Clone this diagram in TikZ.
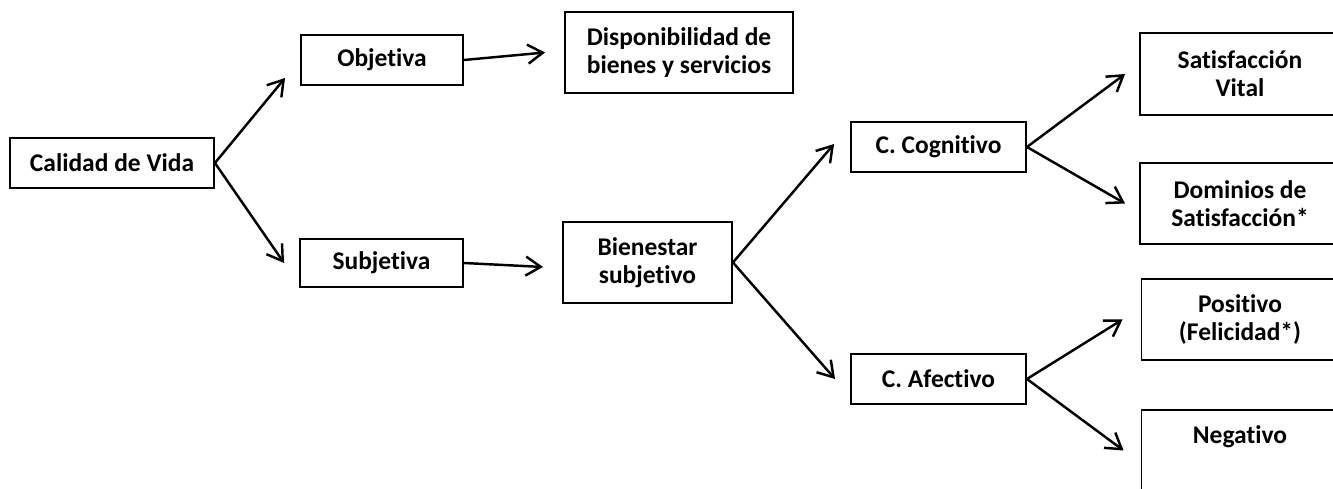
\documentclass[tikz,border=0pt]{standalone}
\usepackage{fontspec}
\setmainfont{Carlito}[Ligatures=NoCommon]
\usepackage{tikz}
\usetikzlibrary{arrows.meta}

\begin{document}
\begin{tikzpicture}[x=0.02cm,y=-0.02cm,
  caja/.style={draw, line width=1.1pt, align=center, inner sep=0pt, font=\fontsize{14.5}{16}\selectfont\bfseries},
  flecha/.style={line width=1.4pt, -{Straight Barb[length=3mm,width=3.8mm]}}]
\clip (0,0) rectangle (1333,489);
\node[caja, minimum width=4.08cm, minimum height=1cm] (cal) at (112,163) {Calidad de Vida};
\node[caja, minimum width=3.24cm, minimum height=1cm] (obj) at (382,60) {Objetiva};
\node[caja, minimum width=3.26cm, minimum height=0.96cm] (sub) at (381.5,263) {Subjetiva};
\node[caja, minimum width=4.56cm, minimum height=1.62cm] (disp) at (679,52.5) {Disponibilidad de\\bienes y servicios};
\node[caja, minimum width=3.38cm, minimum height=1.62cm] (bien) at (647.5,262.5) {Bienestar\\subjetivo};
\node[caja, minimum width=3.5cm, minimum height=1cm] (cog) at (938.5,147) {C. Cognitivo};
\node[caja, minimum width=3.5cm, minimum height=1cm] (afe) at (938.5,379) {C. Afectivo};
\node[caja, minimum width=4cm, minimum height=1.64cm] (sat) at (1240,74) {Satisfacción\\Vital};
\node[caja, minimum width=4cm, minimum height=1.62cm] (dom) at (1240,203.5) {Dominios de\\Satisfacción*};
\node[caja, minimum width=3.94cm, minimum height=1.62cm] (pos) at (1240,319.5) {Positivo\\(Felicidad*)};
\node[caja, minimum width=3.94cm, minimum height=1.62cm] (neg) at (1240,450.5) {Negativo\\\phantom{Negativo}};

\draw[flecha] (cal.east) -- ([xshift=-0.3cm,yshift=0.16cm]obj.south west);
\draw[flecha] (cal.east) -- ([xshift=-0.3cm]sub.west);
\draw[flecha] (obj.east) -- ([xshift=-0.38cm]disp.west);
\draw[flecha] (sub.east) -- ([xshift=-0.38cm,yshift=-0.09cm]bien.west);
\draw[flecha] (bien.east) -- ([xshift=-0.32cm,yshift=0.06cm]cog.west);
\draw[flecha] (bien.east) -- ([xshift=-0.3cm]afe.west);
\draw[flecha] (cog.east) -- ([xshift=-0.28cm]sat.west);
\draw[flecha] (cog.east) -- ([xshift=-0.28cm]dom.west);
\draw[flecha] (afe.east) -- ([xshift=-0.36cm]pos.west);
\draw[flecha] (afe.east) -- ([xshift=-0.34cm]neg.west);
\end{tikzpicture}
\end{document}
